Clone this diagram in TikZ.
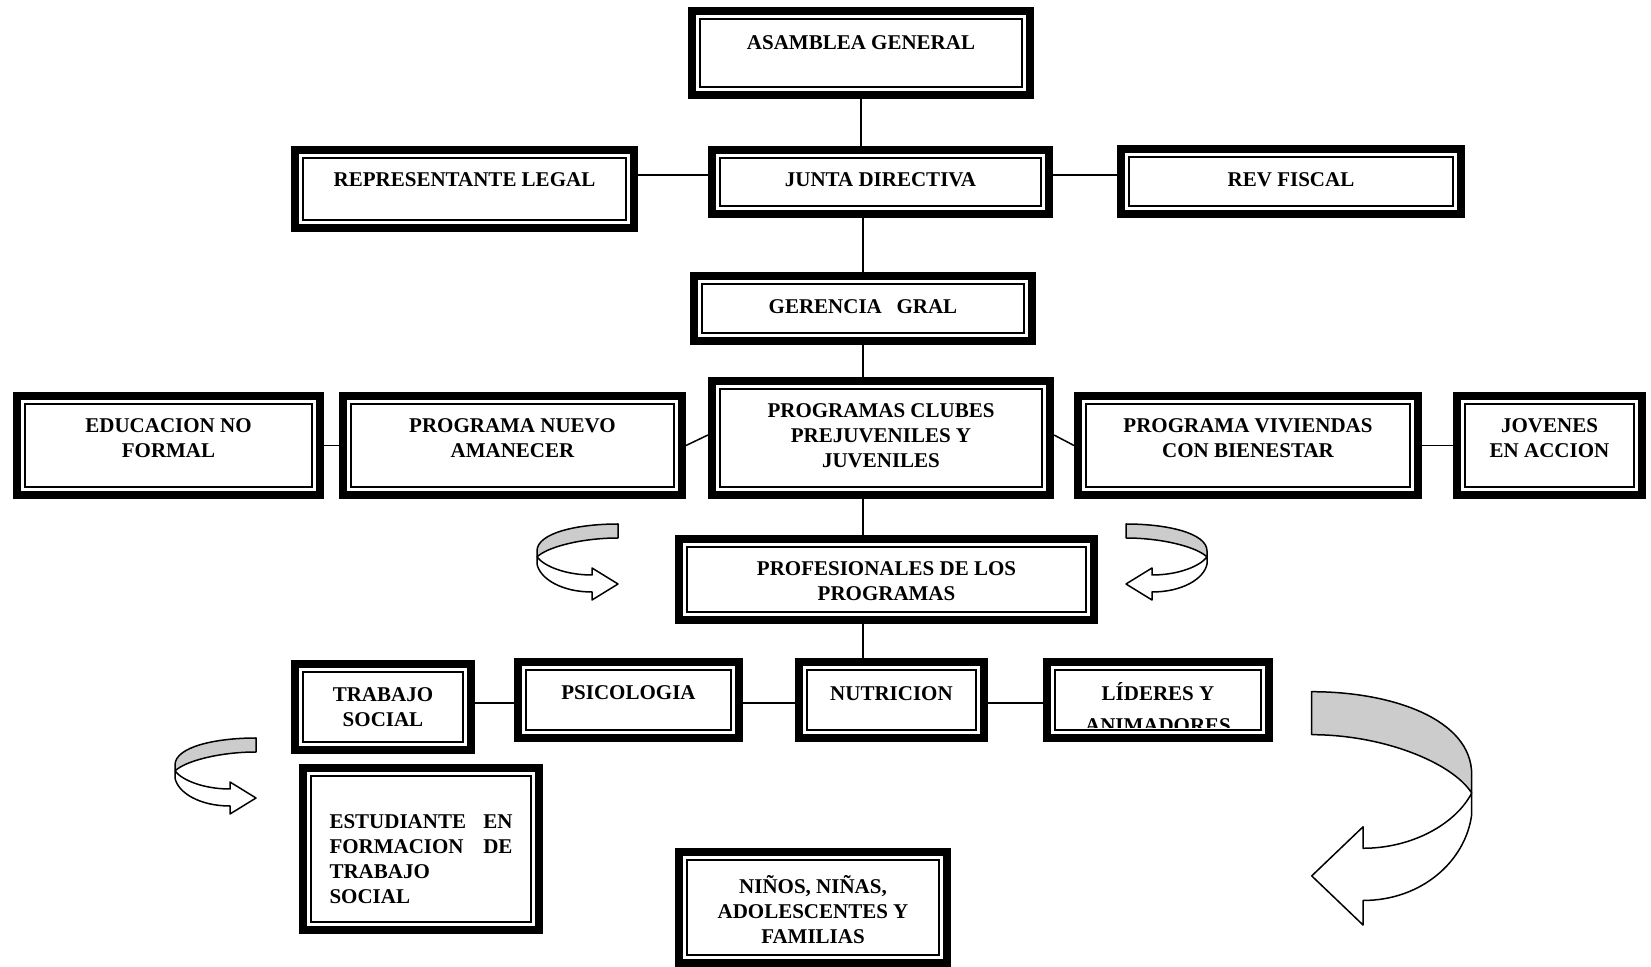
\documentclass[tikz,border=0pt]{standalone}
\usepackage{fontspec}
\setmainfont{Liberation Serif}
\usetikzlibrary{positioning,calc}

\tikzset{
  orgbox/.style={draw, fill=white, line width=4pt, inner sep=0pt, path picture={\draw[line width=1pt] ([shift={(4pt,-4pt)}]path picture bounding box.north west) rectangle ([shift={(-4pt,4pt)}]path picture bounding box.south east);}},
  boxtext/.style={font=\fontsize{10.5}{12.5}\selectfont\bfseries, align=center, inner sep=0pt},
  conn/.style={line width=0.75pt},
  ribbonarrow/.pic={
    \filldraw[fill=gray!40, line width=0.75pt, line join=round] (81,3) .. controls (40,3) and (0,12) .. (0,30) -- (0,36) .. controls (10,26) and (45,17) .. (81,17) -- cycle;
    \filldraw[fill=white, line width=0.75pt, line join=round] (0,36) -- (0,43) .. controls (3,58) and (25,71) .. (55,71) -- (55,79) -- (81,63) -- (55,47) -- (55,54) .. controls (30,54) and (8,46) .. (0,36) -- cycle;
  }
}

\begin{document}
\begin{tikzpicture}[x=0.5pt,y=-0.5pt]
\useasboundingbox (0,0) rectangle (1651,967);

\node at (861,53) [orgbox, minimum width=169pt, minimum height=42pt, label={[boxtext,yshift=5.25pt]center:ASAMBLEA GENERAL}] (asamblea) {};
\node at (880.5,182) [orgbox, minimum width=168.5pt, minimum height=32pt, label={[boxtext,yshift=1pt]center:JUNTA DIRECTIVA}] (junta) {};
\node at (464.5,189) [orgbox, minimum width=169.5pt, minimum height=39pt, label={[boxtext,yshift=4.5pt]center:REPRESENTANTE LEGAL}] (replegal) {};
\node at (1291,181.5) [orgbox, minimum width=170pt, minimum height=32.5pt, label={[boxtext,yshift=0.75pt]center:REV FISCAL}] (revfiscal) {};
\node at (863,308.5) [orgbox, minimum width=169pt, minimum height=32.5pt, label={[boxtext,yshift=1pt]center:{GERENCIA\hskip0.7em GRAL}}] (gerencia) {};

\node at (168.5,445.5) [orgbox, minimum width=151.5pt, minimum height=49.5pt, label={[boxtext,yshift=3.75pt]center:{EDUCACION NO\\FORMAL}}] (educacion) {};
\node at (512.5,445.5) [orgbox, minimum width=169.5pt, minimum height=49.5pt, label={[boxtext,yshift=3.75pt]center:{PROGRAMA NUEVO\\AMANECER}}] (amanecer) {};
\node at (881,438) [orgbox, minimum width=169pt, minimum height=57pt, label={[boxtext,yshift=1.3pt]center:{PROGRAMAS CLUBES\\PREJUVENILES Y\\JUVENILES}}] (clubes) {};
\node at (1248,445.5) [orgbox, minimum width=170pt, minimum height=49.5pt, label={[boxtext,yshift=3.75pt]center:{PROGRAMA VIVIENDAS\\CON BIENESTAR}}] (viviendas) {};
\node at (1549.5,445.5) [orgbox, minimum width=92.5pt, minimum height=49.5pt, label={[boxtext,yshift=3.75pt]center:{JOVENES\\EN ACCION}}] (jovenes) {};

\node at (886.5,579.5) [orgbox, minimum width=207.5pt, minimum height=40.5pt, label={[boxtext,yshift=-1pt]center:{PROFESIONALES DE LOS\\PROGRAMAS}}] (profesionales) {};

\node at (383,707) [orgbox, minimum width=88pt, minimum height=43pt, label={[boxtext]center:{TRABAJO\\SOCIAL}}] (trabajo) {};
\node at (628.5,700) [orgbox, minimum width=110.5pt, minimum height=38pt, label={[boxtext,yshift=3.6pt]center:PSICOLOGIA}] (psicologia) {};
\node at (891.5,700) [orgbox, minimum width=92.5pt, minimum height=38pt, label={[boxtext,yshift=3pt]center:NUTRICION}] (nutricion) {};
\node at (1158,700) [orgbox, minimum width=111pt, minimum height=38pt] (lideres) {};
\begin{scope}
\clip (lideres.north west) rectangle ([yshift=7pt]lideres.south east);
\node at ([yshift=-3.6pt]lideres.center) [boxtext] (liderestext) {LÍDERES Y\\[3.5pt]ANIMADORES};
\end{scope}

\node at (421,849) [orgbox, minimum width=118pt, minimum height=81pt, label={[boxtext,text width=91.5pt,align=left,yshift=-5pt]center:{ESTUDIANTE\hfill EN\\FORMACION\hfill DE\\TRABAJO\\SOCIAL}}] (estudiante) {};
\node at (813,907.5) [orgbox, minimum width=134pt, minimum height=55.5pt, label={[boxtext,yshift=-1pt]center:{NIÑOS, NIÑAS,\\ADOLESCENTES Y\\FAMILIAS}}] (ninos) {};

\draw[conn] (asamblea.south) -- (asamblea.south |- junta.north);
\draw[conn] ([yshift=3.5pt]junta.west) -- ([yshift=3.5pt]junta.west -| replegal.east);
\draw[conn] ([yshift=3.5pt]junta.east) -- ([yshift=3.5pt]junta.east -| revfiscal.west);
\draw[conn] (gerencia.north) -- (gerencia.north |- junta.south);
\draw[conn] (gerencia.south) -- (gerencia.south |- clubes.north);
\draw[conn] (educacion.east) -- (amanecer.west);
\draw[conn] (amanecer.east) -- ([yshift=1.5pt]clubes.west);
\draw[conn] ([yshift=1.5pt]clubes.east) -- (viviendas.west);
\draw[conn] (viviendas.east) -- (jovenes.west);
\draw[conn] (gerencia.south |- clubes.south) -- (gerencia.south |- profesionales.north);
\draw[conn] (gerencia.south |- profesionales.south) -- (gerencia.south |- nutricion.north);
\draw[conn] ([yshift=-1.5pt]psicologia.west) -- ([yshift=-1.5pt]psicologia.west -| trabajo.east);
\draw[conn] ([yshift=-1.5pt]psicologia.east) -- ([yshift=-1.5pt]psicologia.east -| nutricion.west);
\draw[conn] ([yshift=-1.5pt]nutricion.east) -- ([yshift=-1.5pt]nutricion.east -| lideres.west);

% curved arrows
\begin{scope}[shift={(537,521)}] \pic[transform shape] {ribbonarrow}; \end{scope}
\begin{scope}[shift={(1207,521)}, xscale=-1] \pic[transform shape] {ribbonarrow}; \end{scope}
\begin{scope}[shift={(175,735)}] \pic[transform shape] {ribbonarrow}; \end{scope}
\begin{scope}[shift={(1471.7,682.5)}, xscale=-1.975, yscale=3.07] \pic[transform shape] {ribbonarrow}; \end{scope}

\end{tikzpicture}
\end{document}
